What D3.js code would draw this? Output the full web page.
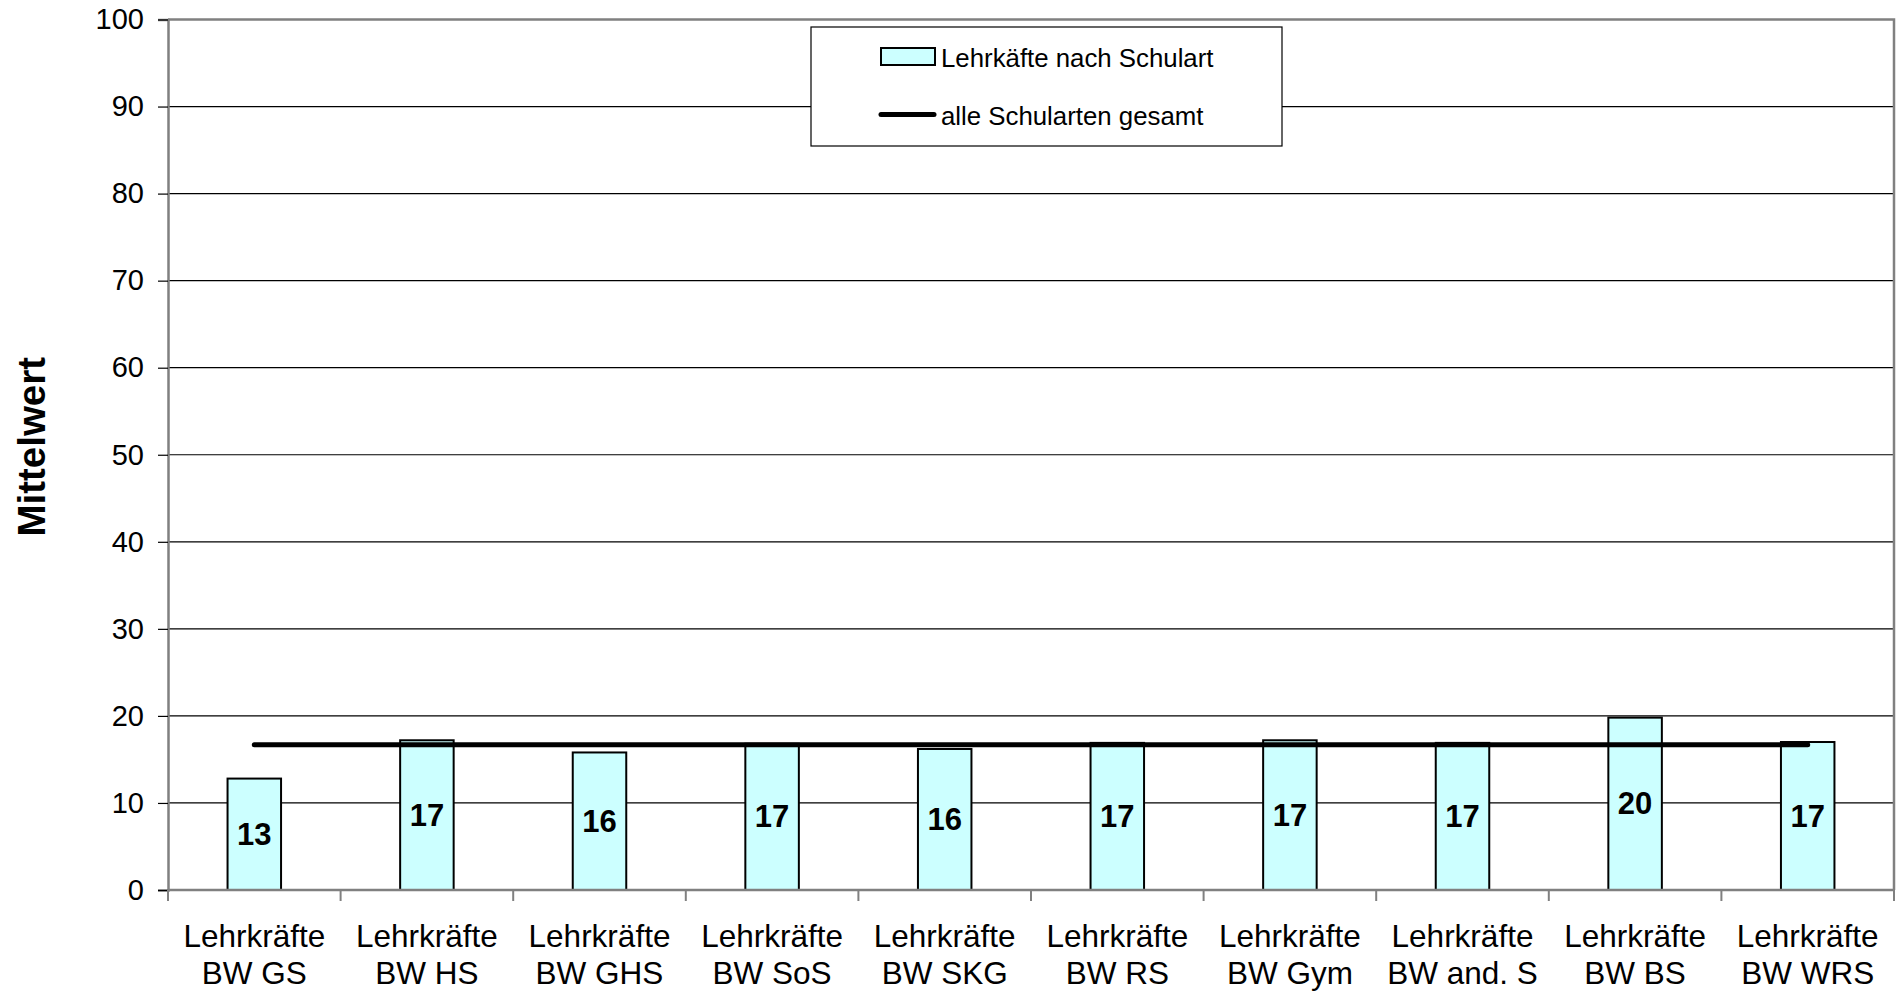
<!DOCTYPE html>
<html>
<head>
<meta charset="utf-8">
<script src="https://cdn.jsdelivr.net/npm/d3@7"></script>
<style>
html,body{margin:0;padding:0;background:#fff;}
svg{display:block;font-family:"Liberation Sans",Arial,sans-serif;}
</style>
</head>
<body>
<svg id="chart" width="1896" height="995"></svg>
<script>
const categories = ["Lehrkräfte BW GS","Lehrkräfte BW HS","Lehrkräfte BW GHS","Lehrkräfte BW SoS","Lehrkräfte BW SKG","Lehrkräfte BW RS","Lehrkräfte BW Gym","Lehrkräfte BW and. S","Lehrkräfte BW BS","Lehrkräfte BW WRS"];
const labelLines = [["Lehrkräfte","BW GS"],["Lehrkräfte","BW HS"],["Lehrkräfte","BW GHS"],["Lehrkräfte","BW SoS"],["Lehrkräfte","BW SKG"],["Lehrkräfte","BW RS"],["Lehrkräfte","BW Gym"],["Lehrkräfte","BW and. S"],["Lehrkräfte","BW BS"],["Lehrkräfte","BW WRS"]];
const values = [12.8, 17.2, 15.8, 16.8, 16.2, 16.9, 17.2, 16.9, 19.8, 17.0];
const overall = 16.7;
const yTicks = [0,10,20,30,40,50,60,70,80,90,100];
const legendLabels = ["Lehrkäfte nach Schulart","alle Schularten gesamt"];
const yTitle = "Mittelwert";

const svg = d3.select("#chart");
const L = 168, R = 1894, T = 19.5, B = 890;

const x = d3.scaleBand().domain(categories).range([L, R]).paddingInner(0.69).paddingOuter(0.345);
const xc = d3.scalePoint().domain(categories).range([L, R]).padding(0.5);
const y = d3.scaleLinear().domain([0, 100]).range([B, T]);

// gridlines
svg.append("g").selectAll("line").data(yTicks.filter(d => d > 0 && d < 100)).join("line")
  .attr("x1", L).attr("x2", R).attr("y1", d => y(d)).attr("y2", d => y(d))
  .attr("stroke", "#000").attr("stroke-width", 1.2);

// plot border (top & right)
svg.append("path").attr("d", `M${L},${y(100)}H${R}V${B}`).attr("fill", "none")
  .attr("stroke", "#808080").attr("stroke-width", 2.5);

// bars
svg.append("g").selectAll("rect").data(categories).join("rect")
  .attr("x", d => x(d)).attr("width", x.bandwidth())
  .attr("y", (d, i) => y(values[i])).attr("height", (d, i) => B - y(values[i]))
  .attr("fill", "#CCFFFF").attr("stroke", "#000").attr("stroke-width", 2);

// overall line
svg.append("line")
  .attr("x1", xc(categories[0])).attr("x2", xc(categories[categories.length - 1]))
  .attr("y1", y(overall)).attr("y2", y(overall))
  .attr("stroke", "#000").attr("stroke-width", 5).attr("stroke-linecap", "round");

// bar labels
svg.append("g").selectAll("text").data(categories).join("text")
  .attr("x", d => xc(d)).attr("y", (d, i) => (y(values[i]) + B) / 2)
  .attr("text-anchor", "middle").attr("dominant-baseline", "central")
  .attr("font-size", 31).attr("font-weight", "bold")
  .text((d, i) => Math.round(values[i]));

// y axis
const yAxis = d3.axisLeft(y).tickValues(yTicks).tickSize(10).tickPadding(14);
const gy = svg.append("g").attr("transform", `translate(${L},0)`).call(yAxis);
gy.select(".domain").attr("stroke", "#808080").attr("stroke-width", 2.5);
gy.selectAll(".tick line").attr("stroke", "#000").attr("stroke-width", 1.2);
gy.selectAll(".tick text").attr("font-size", 29).attr("fill", "#000")
  .attr("font-family", "Liberation Sans, Arial, sans-serif");

// x axis
const edges = categories.map(c => x(c) - x.step() * x.paddingInner() / 2).concat([R]);
const gx = svg.append("g");
gx.append("line").attr("x1", L).attr("x2", R).attr("y1", B).attr("y2", B)
  .attr("stroke", "#808080").attr("stroke-width", 2.5);
gx.selectAll("line.tk").data(edges).join("line").attr("class", "tk")
  .attr("x1", d => d).attr("x2", d => d).attr("y1", B).attr("y2", B + 11)
  .attr("stroke", "#808080").attr("stroke-width", 2);
gx.selectAll("text").data(categories).join("text")
  .attr("x", d => xc(d)).attr("y", 946.5)
  .attr("text-anchor", "middle").attr("font-size", 31.5).attr("fill", "#000")
  .each(function(d, i) {
    const t = d3.select(this);
    labelLines[i].forEach((ln, j) => {
      t.append("tspan").attr("x", xc(d)).attr("dy", j === 0 ? 0 : 37).text(ln);
    });
  });

// y title
svg.append("text").attr("transform", `translate(45,${(T + B) / 2 - 8}) rotate(-90)`)
  .attr("text-anchor", "middle").attr("font-size", 38.5).attr("font-weight", "bold")
  .text(yTitle);

// legend
const lg = svg.append("g");
lg.append("rect").attr("x", 811).attr("y", 27).attr("width", 471).attr("height", 119)
  .attr("fill", "#fff").attr("stroke", "#000").attr("stroke-width", 1.2);
lg.append("rect").attr("x", 881).attr("y", 48).attr("width", 54).attr("height", 17)
  .attr("fill", "#CCFFFF").attr("stroke", "#000").attr("stroke-width", 2);
lg.append("line").attr("x1", 881).attr("x2", 934).attr("y1", 114.5).attr("y2", 114.5)
  .attr("stroke", "#000").attr("stroke-width", 5).attr("stroke-linecap", "round");
lg.append("text").attr("x", 941).attr("y", 66.5).attr("font-size", 25.8).text(legendLabels[0]);
lg.append("text").attr("x", 941).attr("y", 125).attr("font-size", 25.8).text(legendLabels[1]);
</script>
</body>
</html>
